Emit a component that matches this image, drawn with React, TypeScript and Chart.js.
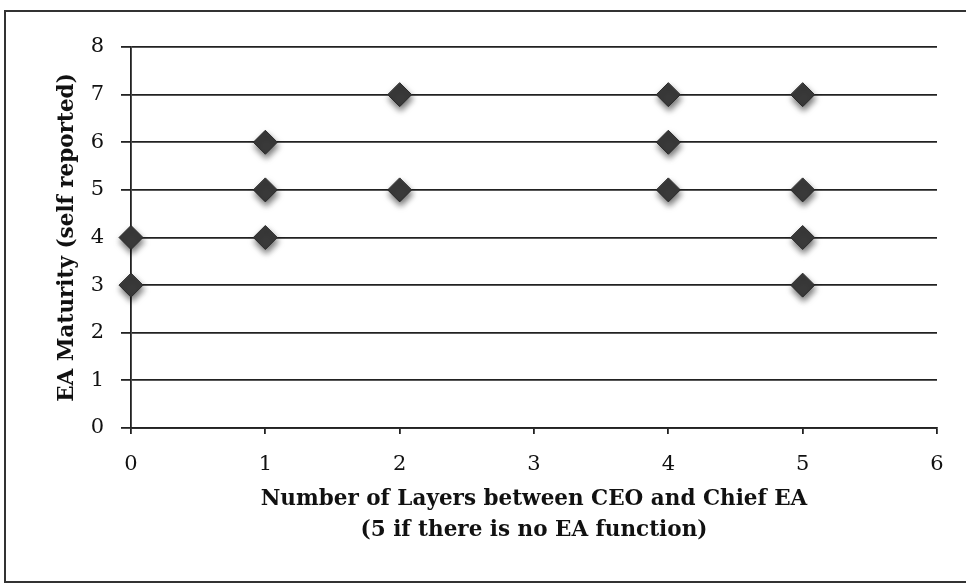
import React, { useEffect, useRef } from "react";
import { Chart, registerables } from "chart.js";

Chart.register(...registerables);

// Layers between CEO and Chief EA (x) vs. self-reported EA maturity (y)
const layers = [0, 0, 1, 1, 1, 2, 2, 4, 4, 4, 5, 5, 5, 5];
const maturity = [4, 3, 6, 5, 4, 7, 5, 7, 6, 5, 7, 5, 4, 3];

const xTicks = [0, 1, 2, 3, 4, 5, 6];
const yTicks = [0, 1, 2, 3, 4, 5, 6, 7, 8];

const xTitle = ["Number of Layers between CEO and Chief EA", "(5 if there is no EA function)"];
const yTitle = "EA Maturity (self reported)";

const INK = "#222";
const SERIF = "'DejaVu Serif', 'Liberation Serif', serif";

// soft drop shadow under the diamond markers
const markerShadow = {
  id: "markerShadow",
  beforeDatasetsDraw(chart: any) {
    const ctx = chart.ctx;
    ctx.save();
    ctx.shadowColor = "rgba(0,0,0,0.55)";
    ctx.shadowBlur = 6;
    ctx.shadowOffsetX = 1;
    ctx.shadowOffsetY = 4;
  },
  afterDatasetsDraw(chart: any) {
    chart.ctx.restore();
  },
};

export default function App() {
  const canvasRef = useRef<HTMLCanvasElement | null>(null);

  useEffect(() => {
    const canvas = canvasRef.current;
    if (!canvas) return;
    const points = layers.map((x, i) => ({ x, y: maturity[i] }));
    const chart = new Chart(canvas, {
      type: "scatter",
      data: {
        datasets: [
          {
            data: points,
            pointStyle: "rectRot",
            pointRadius: 12,
            pointHoverRadius: 12,
            backgroundColor: "#3a3a3a",
            borderColor: "#2a2a2a",
            borderWidth: 1,
            clip: false,
          } as any,
        ],
      },
      plugins: [markerShadow],
      options: {
        animation: false,
        responsive: false,
        maintainAspectRatio: false,
        events: [],
        layout: { padding: { left: 0, right: 29, top: 47, bottom: 0 } },
        plugins: {
          legend: { display: false },
          tooltip: { enabled: false },
        },
        scales: {
          x: {
            type: "linear",
            min: xTicks[0],
            max: xTicks[xTicks.length - 1],
            afterBuildTicks: (scale: any) => {
              scale.ticks = xTicks.map((v) => ({ value: v }));
            },
            afterFit: (scale: any) => {
              scale.height = 156;
            },
            grid: {
              drawOnChartArea: false,
              drawTicks: true,
              tickLength: 6,
              color: INK,
              lineWidth: 1.8,
            },
            border: { display: true, color: INK, width: 1.8 },
            ticks: {
              color: "#111",
              padding: 18,
              font: { family: SERIF, size: 21 },
            },
            title: {
              display: true,
              text: xTitle,
              color: "#111",
              font: { family: SERIF, size: 21.5, weight: "bold", lineHeight: 1.4 },
              padding: { top: 0, bottom: 39 },
            },
          },
          y: {
            type: "linear",
            min: yTicks[0],
            max: yTicks[yTicks.length - 1],
            afterBuildTicks: (scale: any) => {
              scale.ticks = yTicks.map((v) => ({ value: v }));
            },
            afterFit: (scale: any) => {
              scale.width = 131;
            },
            grid: {
              drawOnChartArea: true,
              drawTicks: true,
              tickLength: 10,
              color: INK,
              lineWidth: 1.8,
            },
            border: { display: true, color: INK, width: 1.8 },
            ticks: {
              color: "#111",
              padding: 17,
              font: { family: SERIF, size: 21 },
            },
            title: {
              display: true,
              text: yTitle,
              color: "#111",
              font: { family: SERIF, size: 21.5, weight: "bold", lineHeight: 1.2 },
              padding: { top: 55, bottom: 0 },
            },
          },
        },
      } as any,
    });
    return () => chart.destroy();
  }, []);

  return (
    <div
      style={{
        position: "fixed",
        left: 0,
        top: 0,
        width: 966,
        height: 584,
        overflow: "hidden",
        background: "#fff",
      }}
    >
      <div
        style={{
          position: "absolute",
          left: 4,
          top: 10,
          width: 1000,
          height: 569,
          borderLeft: "2px solid #333",
          borderTop: "2px solid #333",
          borderBottom: "2px solid #333",
        }}
      />
      <canvas
        ref={canvasRef}
        width={966}
        height={584}
        style={{ position: "absolute", left: 0, top: 0, width: 966, height: 584 }}
      />
    </div>
  );
}
